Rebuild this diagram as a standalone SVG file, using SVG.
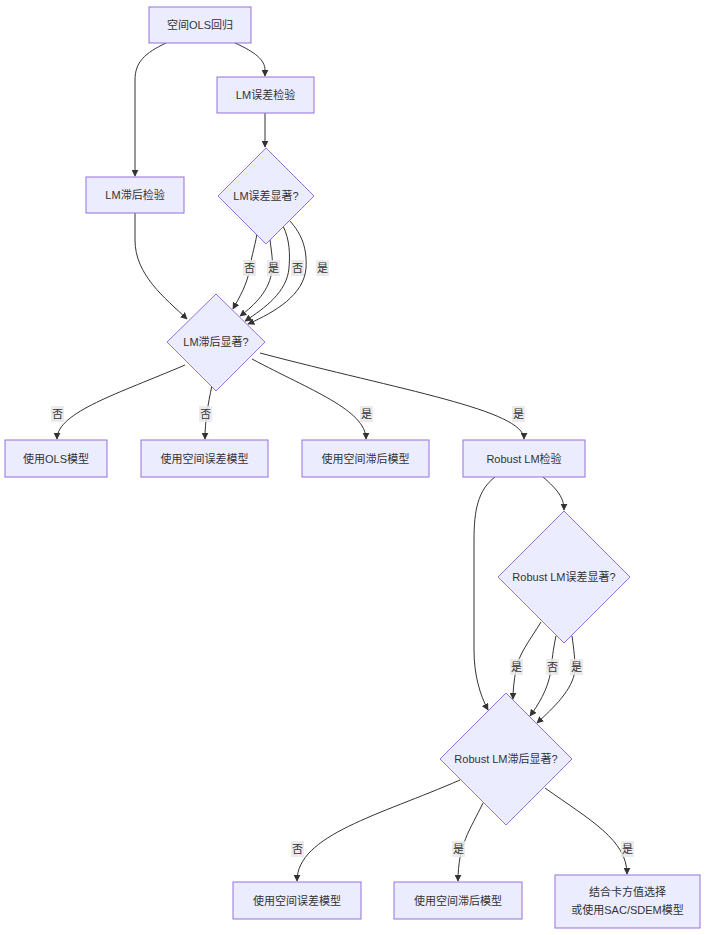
<svg xmlns="http://www.w3.org/2000/svg" width="705" height="935" viewBox="0 0 705 935">
<defs>
<marker id="arr" viewBox="0 0 10 10" refX="9" refY="5" markerWidth="7" markerHeight="7" orient="auto-start-reverse" markerUnits="userSpaceOnUse">
<path d="M0,0 L10,5 L0,10 z" fill="#333"/>
</marker>
<style>
.n{fill:#ECECFF;stroke:#9370DB;stroke-width:1}
.t{font-family:"Liberation Sans","Noto Sans CJK SC",sans-serif;font-size:11px;fill:#333;text-anchor:middle;dominant-baseline:central}
.e{fill:none;stroke:#333;stroke-width:1;marker-end:url(#arr)}
.lb{fill:#e8e8e8;opacity:0.85}
</style>
</defs>
<rect width="705" height="935" fill="#fff"/>
<g id="connectors">
<path class="e" d="M166,43 C145,53 135,62 135,80 L135,176"/>
<path class="e" d="M235,43 C255,52 265,60 265,70 L265,76"/>
<path class="e" d="M265,113 L265,147"/>
<path class="e" d="M135,213 L135,240 C135,275 165,298 187,319"/>
<path class="e" d="M257,234 C254,250 251,258 250,268 C247,285 239,298 233,309"/>
<path class="e" d="M270,240 C272,255 273,262 272,270 C270,290 255,305 240,316"/>
<path class="e" d="M283,226 C290,240 290,255 289,268 C287,292 265,308 245,321"/>
<path class="e" d="M289,220 C303,235 307,250 306,268 C304,295 275,312 248,324"/>
<path class="e" d="M185,365 C120,393 57,412 57,439"/>
<path class="e" d="M212,385 C208,405 205,420 205,439"/>
<path class="e" d="M252,359 C310,390 366,410 366,439"/>
<path class="e" d="M260,353 C400,390 524,410 524,439"/>
<path class="e" d="M495,477 C478,490 474,510 474,540 L474,650 C474,675 480,695 488,710"/>
<path class="e" d="M543,477 C558,490 564,498 564,510"/>
<path class="e" d="M541,622 C530,640 518,655 516,670 C514,680 513,690 513,699"/>
<path class="e" d="M556,636 C553,650 552,660 551,670 C548,690 538,705 530,716"/>
<path class="e" d="M572,636 C574,650 575,660 575,670 C573,690 553,708 537,723"/>
<path class="e" d="M460,780 C380,815 297,835 297,881"/>
<path class="e" d="M483,803 C470,830 458,845 458,881"/>
<path class="e" d="M545,788 C590,820 627,840 627,874"/>
</g>
<g id="edge-labels">
<rect class="lb" x="243" y="260" width="13" height="16"/><text class="t" x="249.5" y="268">否</text>
<rect class="lb" x="267" y="260" width="13" height="16"/><text class="t" x="273.5" y="268">是</text>
<rect class="lb" x="291" y="260" width="13" height="16"/><text class="t" x="297.5" y="268">否</text>
<rect class="lb" x="316" y="260" width="13" height="16"/><text class="t" x="322.5" y="268">是</text>
<rect class="lb" x="51" y="406" width="13" height="16"/><text class="t" x="57.5" y="414">否</text>
<rect class="lb" x="199" y="406" width="13" height="16"/><text class="t" x="205.5" y="414">否</text>
<rect class="lb" x="360" y="406" width="13" height="16"/><text class="t" x="366.5" y="414">是</text>
<rect class="lb" x="512" y="406" width="13" height="16"/><text class="t" x="518.5" y="414">是</text>
<rect class="lb" x="510" y="659" width="13" height="16"/><text class="t" x="516.5" y="667">是</text>
<rect class="lb" x="546" y="659" width="13" height="16"/><text class="t" x="552.5" y="667">否</text>
<rect class="lb" x="570" y="659" width="13" height="16"/><text class="t" x="576.5" y="667">是</text>
<rect class="lb" x="291" y="841" width="13" height="16"/><text class="t" x="297.5" y="849">否</text>
<rect class="lb" x="452" y="841" width="13" height="16"/><text class="t" x="458.5" y="849">是</text>
<rect class="lb" x="621" y="841" width="13" height="16"/><text class="t" x="627.5" y="849">是</text>
</g>
<g id="ols"><rect class="n" x="149" y="7" width="102" height="36"/><text class="t" x="200" y="25">空间OLS回归</text></g>
<g id="lmerr"><rect class="n" x="217" y="77" width="97" height="36"/><text class="t" x="265.5" y="95">LM误差检验</text></g>
<g id="lmlag"><rect class="n" x="86" y="177" width="98" height="36"/><text class="t" x="135" y="195">LM滞后检验</text></g>
<g id="lmerrsig"><polygon class="n" points="266,148 314,196 266,244 218,196"/><text class="t" x="266" y="196">LM误差显著?</text></g>
<g id="lmlagsig"><polygon class="n" points="216,294 265,342 216,391 167,342"/><text class="t" x="216" y="342">LM滞后显著?</text></g>
<g id="useols"><rect class="n" x="5" y="440" width="102" height="37"/><text class="t" x="56" y="458.5">使用OLS模型</text></g>
<g id="useerr1"><rect class="n" x="141" y="440" width="127" height="37"/><text class="t" x="204.5" y="458.5">使用空间误差模型</text></g>
<g id="uselag1"><rect class="n" x="302" y="440" width="127" height="37"/><text class="t" x="365.5" y="458.5">使用空间滞后模型</text></g>
<g id="robust"><rect class="n" x="463" y="440" width="122" height="37"/><text class="t" x="524" y="458.5">Robust LM检验</text></g>
<g id="roberrsig"><polygon class="n" points="564,511 630,577 564,643 498,577"/><text class="t" x="564" y="577">Robust LM误差显著?</text></g>
<g id="roblagsig"><polygon class="n" points="506,693 572,759 506,825 440,759"/><text class="t" x="506" y="759">Robust LM滞后显著?</text></g>
<g id="useerr2"><rect class="n" x="233" y="882" width="128" height="37"/><text class="t" x="297" y="900.5">使用空间误差模型</text></g>
<g id="uselag2"><rect class="n" x="394" y="882" width="128" height="37"/><text class="t" x="458" y="900.5">使用空间滞后模型</text></g>
<g id="combine"><rect class="n" x="555" y="875" width="145" height="53"/><text class="t" x="627.5" y="892">结合卡方值选择</text><text class="t" x="627.5" y="910">或使用SAC/SDEM模型</text></g>
</svg>
